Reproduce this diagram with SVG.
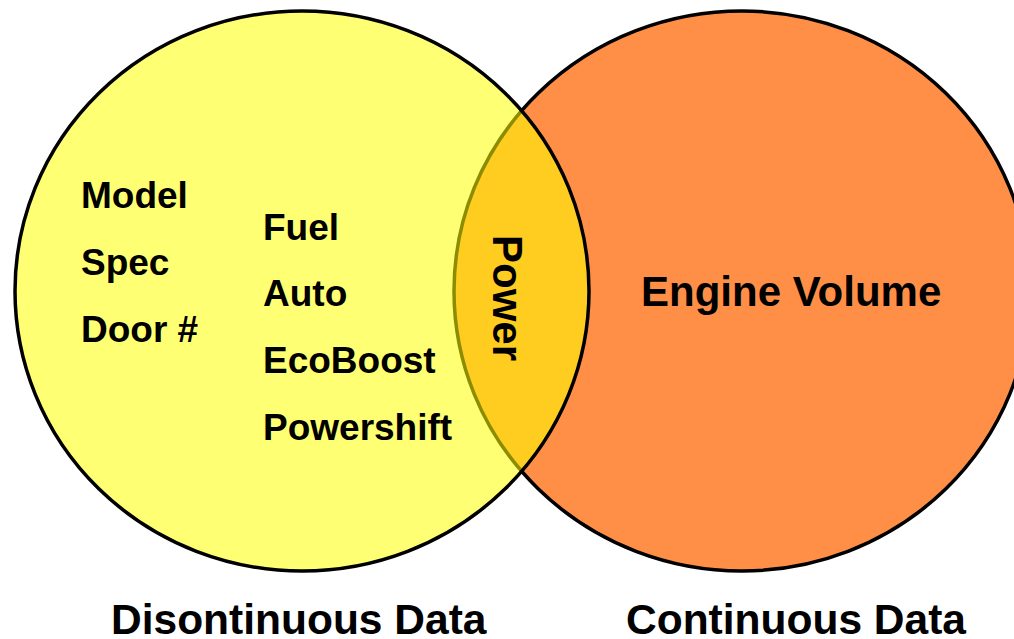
<svg xmlns="http://www.w3.org/2000/svg" width="1014" height="639" viewBox="0 0 1014 639">
  <style>
    .set { stroke: #000; stroke-width: 3.5; }
    .lbl { font-family: "Liberation Sans", Arial, sans-serif; font-weight: bold; fill: #000; }
    .item { font-size: 37px; }
    .big { font-size: 42px; }
    .cap { font-size: 42.5px; }
  </style>
  <rect width="1014" height="639" fill="#fff"/>

  <!-- continuous set (drawn underneath) -->
  <g id="continuous-set">
    <ellipse class="set" cx="742" cy="291" rx="288" ry="280" fill="#FF8F47"/>
    <text class="lbl big" x="641" y="306">Engine Volume</text>
  </g>

  <!-- discontinuous set: translucent yellow over the orange gives the gold overlap -->
  <g id="discontinuous-set">
    <ellipse class="set" cx="302" cy="291" rx="287" ry="280" fill="#FFFF00" fill-opacity="0.55"/>
    <text class="lbl item" x="81" y="208">Model</text>
    <text class="lbl item" x="81" y="275">Spec</text>
    <text class="lbl item" x="81" y="342">Door #</text>
    <text class="lbl item" x="263" y="240">Fuel</text>
    <text class="lbl item" x="263" y="306">Auto</text>
    <text class="lbl item" x="263" y="373">EcoBoost</text>
    <text class="lbl item" x="263" y="440">Powershift</text>
  </g>

  <!-- shared region -->
  <g id="overlap">
    <text class="lbl big" transform="translate(493,235) rotate(90)">Power</text>
  </g>

  <g id="captions">
    <text class="lbl cap" x="111" y="634">Disontinuous Data</text>
    <text class="lbl cap" x="626" y="634">Continuous Data</text>
  </g>
</svg>
